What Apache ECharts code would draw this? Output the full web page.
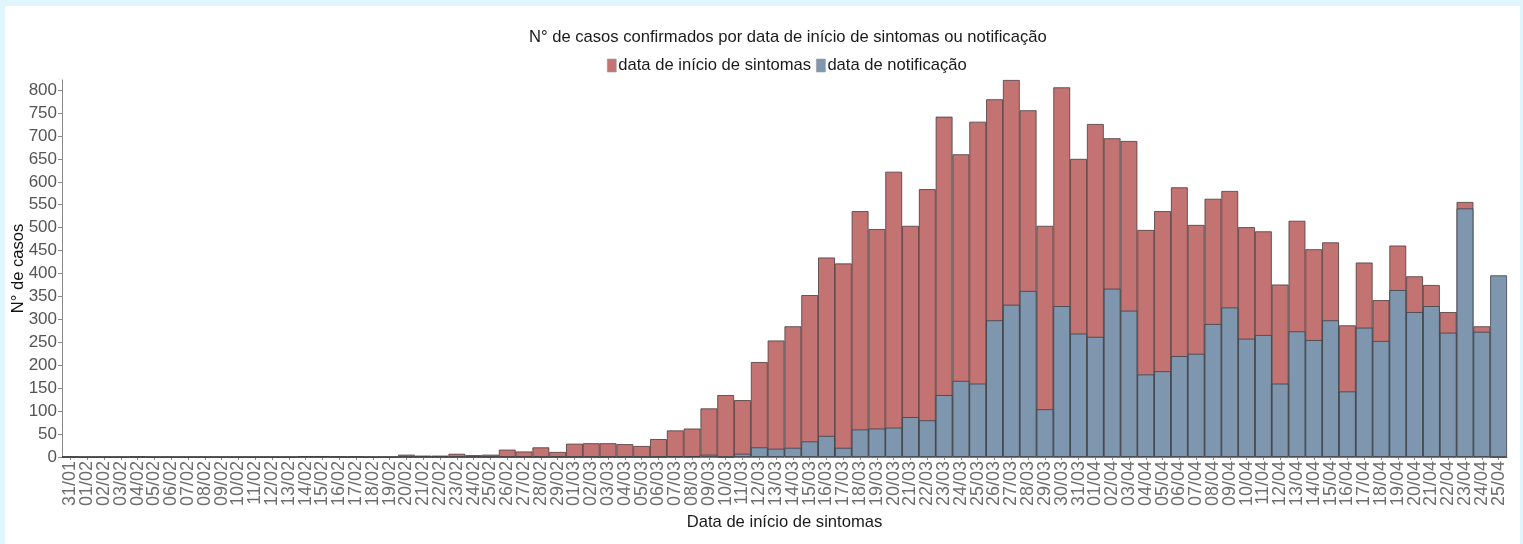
<!DOCTYPE html>
<html>
<head>
<meta charset="utf-8">
<script src="https://cdn.jsdelivr.net/npm/echarts@6/dist/echarts.min.js"></script>
<style>
html,body{margin:0;padding:0;background:#e1f6fc;width:1523px;height:544px;overflow:hidden;}
#c{position:absolute;left:5px;top:6px;width:1515px;height:538px;background:#ffffff;}
</style>
</head>
<body>
<div id="c"></div>
<script>
const categories = ["31/01",
"01/02","02/02","03/02","04/02","05/02","06/02","07/02","08/02","09/02","10/02",
"11/02","12/02","13/02","14/02","15/02","16/02","17/02","18/02","19/02","20/02",
"21/02","22/02","23/02","24/02","25/02","26/02","27/02","28/02","29/02",
"01/03","02/03","03/03","04/03","05/03","06/03","07/03","08/03","09/03","10/03",
"11/03","12/03","13/03","14/03","15/03","16/03","17/03","18/03","19/03","20/03",
"21/03","22/03","23/03","24/03","25/03","26/03","27/03","28/03","29/03","30/03","31/03",
"01/04","02/04","03/04","04/04","05/04","06/04","07/04","08/04","09/04","10/04",
"11/04","12/04","13/04","14/04","15/04","16/04","17/04","18/04","19/04","20/04",
"21/04","22/04","23/04","24/04","25/04"];

const onsetCases = [1,
0,0,0,1,0,0,0,0,0,0,
0,0,0,2,2,1,1,0,0,5,
3,3,7,4,5,16,12,21,11,
29,30,30,28,24,39,58,62,106,135,
124,207,254,285,353,435,422,536,497,622,
504,584,742,660,731,780,822,756,504,806,650,
726,695,689,495,536,588,506,563,580,501,
492,376,515,453,468,287,424,342,461,394,
375,316,556,285,0];

const notificationCases = [0,
0,0,0,0,0,0,0,0,0,0,
0,0,0,0,0,0,0,0,0,0,
0,0,0,0,0,0,0,0,0,
0,0,0,0,0,0,1,1,5,0,
7,21,18,20,34,46,20,60,62,64,
87,80,135,166,160,298,332,362,104,329,269,
262,367,319,180,187,220,225,290,326,258,
266,160,274,255,298,143,282,253,364,316,
329,271,542,273,396];

const yTicks = {min:0, max:822, interval:50};

const chart = echarts.init(document.getElementById('c'));
const txt = '#1a1a1a';
chart.setOption({
  animation:false,
  backgroundColor:'#ffffff',
  title:{
    text:'N° de casos confirmados por data de início de sintomas ou notificação',
    left:519, top:18,
    textStyle:{fontFamily:'Liberation Sans', fontSize:16.6, fontWeight:'normal', color:txt}
  },
  legend:{
    top:46, left:597,
    icon:'rect',
    itemWidth:9, itemHeight:13, itemGap:5,
    itemStyle:{borderColor:'#9a9a9a', borderWidth:0.6},
    textStyle:{fontFamily:'Liberation Sans', fontSize:16.6, color:txt, padding:[0,0,0,-3]},
    data:['data de início de sintomas','data de notificação']
  },
  grid:{left:57, right:13, top:74, bottom:87, outerBoundsMode:'none', containLabel:false},
  xAxis:{
    type:'category', data:categories,
    name:'Data de início de sintomas', nameLocation:'middle', nameGap:57,
    nameTextStyle:{fontFamily:'Liberation Sans', fontSize:16.6, color:txt},
    axisLine:{lineStyle:{color:'#888888', width:1}},
    axisTick:{show:true, alignWithLabel:true, length:3, lineStyle:{color:'#888888'}},
    axisLabel:{interval:0, rotate:90, fontFamily:'Liberation Sans', fontSize:18, color:'#6e6e6e', margin:4, hideOverlap:false}
  },
  yAxis:{
    type:'value', min:yTicks.min, max:yTicks.max, interval:yTicks.interval,
    name:'N° de casos', nameLocation:'middle', nameGap:35, nameMoveOverlap:false,
    nameTextStyle:{fontFamily:'Liberation Sans', fontSize:16.6, color:'#111111'},
    axisLine:{show:true, lineStyle:{color:'#888888', width:1}},
    axisTick:{show:true, length:4, lineStyle:{color:'#888888'}},
    axisLabel:{fontFamily:'Liberation Sans', fontSize:17, color:'#555555', margin:5, showMaxLabel:false},
    splitLine:{show:false}
  },
  series:[
    {name:'data de início de sintomas', type:'bar', data:onsetCases,
     barCategoryGap:'0%', barGap:'-100%',
     itemStyle:{color:'#c47373', borderColor:'#4a3a3a', borderWidth:0.8}},
    {name:'data de notificação', type:'bar', data:notificationCases,
     barCategoryGap:'0%', barGap:'-100%',
     itemStyle:{color:'#7f97ae', borderColor:'#3a4048', borderWidth:0.8}}
  ]
});
</script>
</body>
</html>
